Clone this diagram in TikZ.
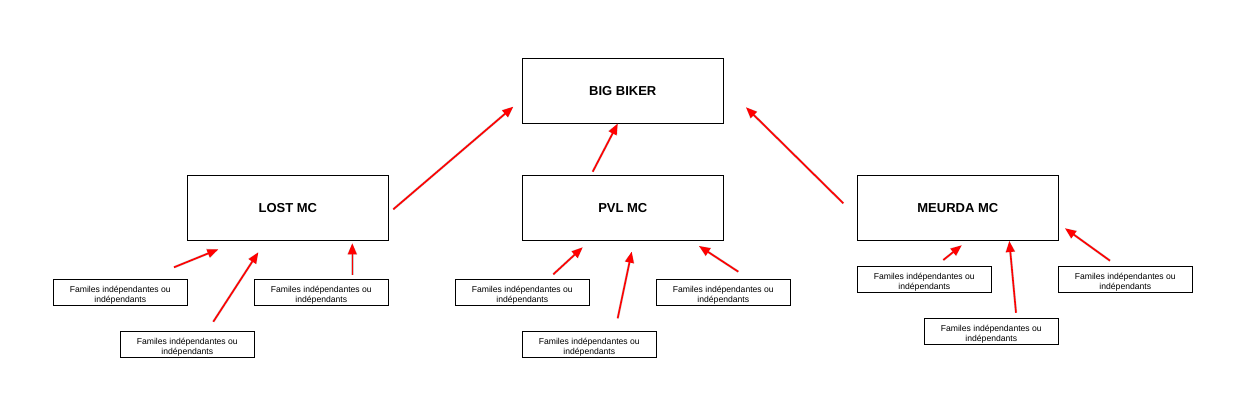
\documentclass[tikz,border=0pt]{standalone}
\usepackage{fontspec}
\setmainfont{Liberation Sans}
\usetikzlibrary{arrows.meta}
\newcommand\famtxt{\raisebox{-2.8pt}[\height][\depth]{\begin{tabular}{@{}c@{}}Familes indépendantes ou\\indépendants\end{tabular}}}
\begin{document}
\begin{tikzpicture}[x=1pt,y=-1pt,
  bigbox/.style={draw=black,line width=0.9pt,minimum width=201pt,minimum height=65pt,inner sep=0pt,font=\fontsize{13}{15}\selectfont\bfseries},
  smallbox/.style={draw=black,line width=0.9pt,minimum width=134pt,minimum height=26pt,inner sep=0pt,align=center,font=\fontsize{8.6}{10}\selectfont},
  redarrow/.style={draw={rgb,255:red,255;green,0;blue,0},line width=1.6pt,-{Triangle[length=11pt,width=8.5pt]}},
  shadowarrow/.style={draw=black!20,line width=2.4pt,-{Triangle[length=11pt,width=9.5pt]},shift={(1.8,2.0)}}]
\useasboundingbox (0,0) rectangle (1260,420);
\fill[white] (0,0) rectangle (1260,420);
% main boxes
\node[bigbox] (big) at (622.8,90.8) {BIG BIKER};
\node[bigbox] (lost) at (287.8,207.8) {LOST MC};
\node[bigbox] (pvl) at (622.8,207.8) {PVL MC};
\node[bigbox] (meurda) at (957.8,207.8) {MEURDA MC};
% small boxes
\node[smallbox] (l1) at (120.3,292.3) {\famtxt};
\node[smallbox] (l2) at (187.3,344.5) {\famtxt};
\node[smallbox] (l3) at (321.3,292.3) {\famtxt};
\node[smallbox] (p1) at (522.3,292.3) {\famtxt};
\node[smallbox] (p2) at (589.3,344.5) {\famtxt};
\node[smallbox] (p3) at (723.3,292.3) {\famtxt};
\node[smallbox] (m1) at (924.3,279.3) {\famtxt};
\node[smallbox] (m2) at (991.3,331.3) {\famtxt};
\node[smallbox] (m3) at (1125.3,279.3) {\famtxt};
% arrow end coordinates
\coordinate (lostT) at (393.3,209.3);   \coordinate (lostH) at (513.3,106.7);
\coordinate (pvlT) at (592.7,171.7);    \coordinate (pvlH) at (617.7,123.6);
\coordinate (meuT) at (843.3,203.3);    \coordinate (meuH) at (746,107.3);
\coordinate (l1T) at (174,267.3);       \coordinate (l1H) at (218.3,249.3);
\coordinate (l2T) at (213.3,321.7);     \coordinate (l2H) at (258.3,252.3);
\coordinate (l3T) at (352.3,275);       \coordinate (l3H) at (352.3,243.3);
\coordinate (p1T) at (553.3,274.3);     \coordinate (p1H) at (582.7,247.3);
\coordinate (p2T) at (617.7,318.3);     \coordinate (p2H) at (631.7,251.7);
\coordinate (p3T) at (738.3,271.7);     \coordinate (p3H) at (699,246);
\coordinate (m1T) at (943.3,260);       \coordinate (m1H) at (961.7,245.3);
\coordinate (m2T) at (1016,312.7);      \coordinate (m2H) at (1009.3,241);
\coordinate (m3T) at (1110,260.7);      \coordinate (m3H) at (1065,228.3);
% shadows
\foreach \a in {lost,pvl,meu,l1,l2,l3,p1,p2,p3,m1,m2,m3}
  \draw[shadowarrow] (\a T) -- (\a H);
% arrows
\foreach \a in {lost,pvl,meu,l1,l2,l3,p1,p2,p3,m1,m2,m3}
  \draw[redarrow] (\a T) -- (\a H);
\end{tikzpicture}
\end{document}
